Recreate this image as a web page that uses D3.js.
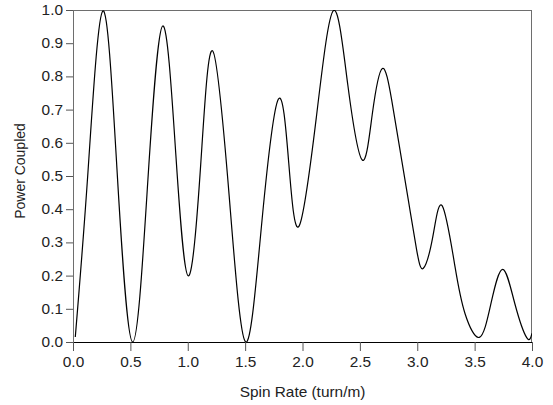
<!DOCTYPE html>
<html>
<head>
<meta charset="utf-8">
<script src="https://cdn.jsdelivr.net/npm/d3@7"></script>
<style>
  body { margin: 0; background: #fff; }
  text { font-family: "Liberation Sans", Arial, sans-serif; }
</style>
</head>
<body>
<div id="chart"></div>
<script>
// values (peaks, troughs and the points half way up each flank)
const spinRate = [0.02, 0.13, 0.26, 0.385, 0.52, 0.653, 0.782, 0.897, 1.005, 1.113, 1.217, 1.361, 1.505,
  1.647, 1.789, 1.88, 1.97, 2.12, 2.269, 2.395, 2.521, 2.608, 2.696, 2.777, 2.85, 2.922, 2.995, 3.053,
  3.135, 3.218, 3.329, 3.416, 3.541, 3.643, 3.745, 3.85, 3.954, 4.0];
const powerCoupled = [0.015, 0.51, 0.997, 0.51, 0.0, 0.49, 0.952, 0.56, 0.199, 0.535, 0.877, 0.44, 0.0,
  0.366, 0.731, 0.54, 0.349, 0.675, 0.998, 0.774, 0.548, 0.686, 0.824, 0.729, 0.578, 0.428, 0.277, 0.222,
  0.316, 0.41, 0.227, 0.086, 0.014, 0.117, 0.219, 0.116, 0.013, 0.026];

const xTicks = [0, 0.5, 1.0, 1.5, 2.0, 2.5, 3.0, 3.5, 4.0];
const yTicks = [0, 0.1, 0.2, 0.3, 0.4, 0.5, 0.6, 0.7, 0.8, 0.9, 1.0];

const margin = { top: 10, right: 21, bottom: 63, left: 73 },
  width = 553 - margin.left - margin.right,
  height = 405 - margin.top - margin.bottom;

const stretch = 1.1; // the reference text is a bit wider than plain Arial

const svg = d3.select("#chart")
  .append("svg")
  .attr("width", 553)
  .attr("height", 405)
  .append("g")
  .attr("transform", `translate(${margin.left}, ${margin.top})`);

svg.append("clipPath")
  .attr("id", "plot-clip")
  .append("rect")
  .attr("x", 0).attr("y", 0)
  .attr("width", width).attr("height", height);

const x = d3.scaleLinear().domain([0, 4]).range([0, width]);
const y = d3.scaleLinear().domain([0, 1]).range([height, 0]);

// frame: top and right
svg.append("line")
  .attr("x1", x(0)).attr("x2", x(4))
  .attr("y1", y(1) + 0.5).attr("y2", y(1) + 0.5)
  .attr("stroke", "#6e6e6e");
svg.append("line")
  .attr("x1", x(4) - 0.5).attr("x2", x(4) - 0.5)
  .attr("y1", y(1)).attr("y2", y(0))
  .attr("stroke", "#6e6e6e");

// x axis
const xAxis = svg.append("g")
  .attr("transform", `translate(0, ${height})`)
  .call(d3.axisBottom(x).tickValues(xTicks).tickFormat(d3.format(".1f")).tickSize(9).tickSizeOuter(0));
xAxis.select(".domain").attr("stroke", "#000");
xAxis.selectAll(".tick line").attr("stroke", "#555");
xAxis.selectAll("text")
  .attr("y", 15)
  .attr("dy", "0.71em")
  .attr("transform", `scale(${stretch},1)`)
  .style("font-size", "14px")
  .attr("fill", "#222");

// y axis
const yAxis = svg.append("g")
  .call(d3.axisLeft(y).tickValues(yTicks).tickFormat(d3.format(".1f")).tickSize(7).tickSizeOuter(0));
yAxis.select(".domain").attr("stroke", "#6e6e6e");
yAxis.selectAll(".tick line").attr("stroke", "#555");
yAxis.selectAll("text")
  .attr("x", -10 / stretch)
  .attr("transform", `scale(${stretch},1)`)
  .style("font-size", "14px")
  .attr("fill", "#222");

svg.selectAll(".domain").attr("stroke-width", 1);

// curve
const line = d3.line()
  .x((d, i) => x(spinRate[i]))
  .y(d => y(d))
  .curve(d3.curveNatural);

svg.append("path")
  .datum(powerCoupled)
  .attr("clip-path", "url(#plot-clip)")
  .attr("fill", "none")
  .attr("stroke", "#000")
  .attr("stroke-width", 1.2)
  .attr("d", line);

// axis titles
svg.append("text")
  .attr("transform", `translate(${width / 2}, ${height + 55}) scale(${stretch},1)`)
  .attr("text-anchor", "middle")
  .style("font-size", "14px")
  .attr("fill", "#222")
  .text("Spin Rate (turn/m)");

svg.append("text")
  .attr("transform", `translate(-48, ${height / 2 - 5}) scale(${stretch},1) rotate(-90)`)
  .attr("text-anchor", "middle")
  .style("font-size", "14px")
  .attr("fill", "#222")
  .text("Power Coupled");
</script>
</body>
</html>
